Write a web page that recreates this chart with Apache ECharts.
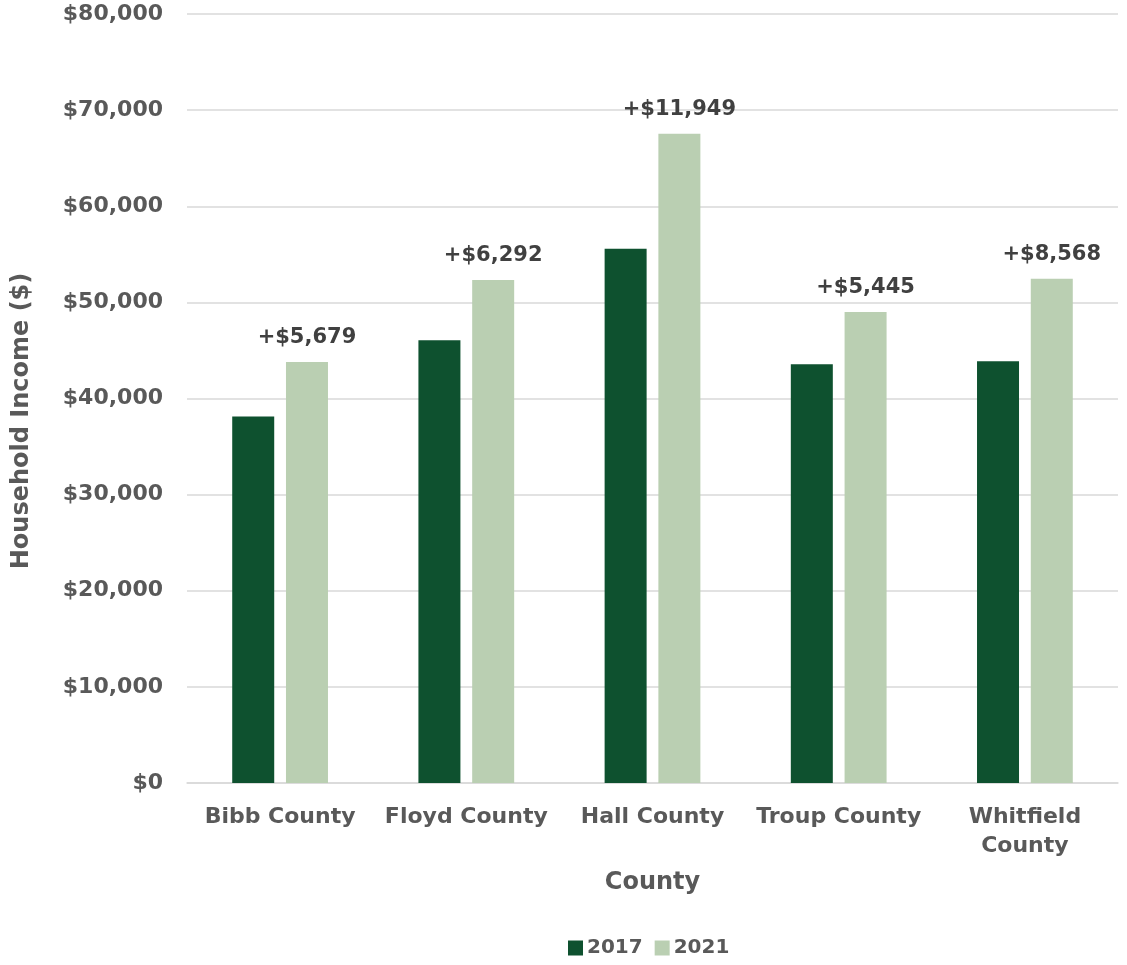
<!DOCTYPE html>
<html><head><meta charset="utf-8">
<script src="https://cdn.jsdelivr.net/npm/echarts@6/dist/echarts.min.js"></script>
<style>html,body{margin:0;padding:0;background:#fff}#c{width:1127px;height:965px}</style>
</head><body><div id="c"></div>
<script>
const categories = ['Bibb County', 'Floyd County', 'Hall County', 'Troup County', 'Whitfield\nCounty'];
const values2017 = [38131, 46048, 55585, 43566, 43877];
const values2021 = [43810, 52340, 67534, 49011, 52445];
const changeLabels = ['+$5,679', '+$6,292', '+$11,949', '+$5,445', '+$8,568'];
const yTicks = [0, 10000, 20000, 30000, 40000, 50000, 60000, 70000, 80000];

const font = 'DejaVu Sans';
const chart = echarts.init(document.getElementById('c'), null, {renderer: 'canvas'});
chart.setOption({
  animation: false,
  textStyle: {fontFamily: font},
  grid: {left: 187, right: 9, top: 14, bottom: 182, containLabel: false, outerBoundsMode: 'none'},
  legend: {
    data: ['2017', '2021'], bottom: 2, left: 563,
    itemWidth: 15, itemHeight: 15, itemGap: 12, icon: 'rect',
    textStyle: {fontFamily: font, fontWeight: 'bold', fontSize: 20, color: '#595959', padding: [0, 0, 0, -1]}
  },
  xAxis: {
    type: 'category', data: categories,
    name: 'County', nameLocation: 'middle', nameGap: 88,
    nameTextStyle: {fontFamily: font, fontWeight: 'bold', fontSize: 24, color: '#595959'},
    axisLine: {lineStyle: {color: '#d9d9d9', width: 1.5}},
    axisTick: {show: false},
    axisLabel: {fontFamily: font, fontWeight: 'bold', fontSize: 22, color: '#595959', margin: 20, lineHeight: 29, interval: 0}
  },
  yAxis: {
    type: 'value', min: 0, max: 80000, interval: 10000,
    name: 'Household Income ($)', nameLocation: 'middle', nameGap: 153,
    nameTextStyle: {fontFamily: font, fontWeight: 'bold', fontSize: 24, color: '#595959', padding: [0, 0, 0, -45]},
    axisLine: {show: false}, axisTick: {show: false},
    splitLine: {lineStyle: {color: '#d9d9d9', width: 1.5}},
    axisLabel: {
      fontFamily: font, fontWeight: 'bold', fontSize: 22, color: '#595959', margin: 24,
      formatter: v => yTicks.includes(v) ? '$' + v.toLocaleString('en-US') : ''
    }
  },
  series: [
    {name: '2017', type: 'bar', data: values2017, barWidth: 42, barGap: '28%',
     itemStyle: {color: '#0e512f'}},
    {name: '2021', type: 'bar', data: values2021, barWidth: 42,
     itemStyle: {color: '#bacfb2'},
     label: {show: true, position: 'top', distance: 14,
       formatter: p => changeLabels[p.dataIndex],
       fontFamily: font, fontWeight: 'bold', fontSize: 21, color: '#404040'}}
  ]
});
</script></body></html>
